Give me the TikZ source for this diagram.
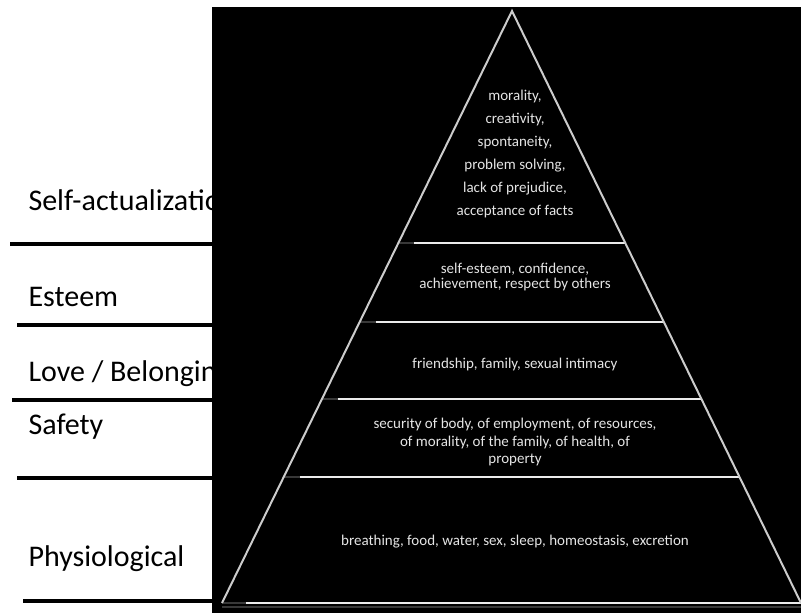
\documentclass[tikz,border=0pt]{standalone}
\usepackage{fontspec}
\setmainfont{Carlito}
\usetikzlibrary{calc}

\begin{document}
\begin{tikzpicture}[x=1pt,y=-1pt,
  level/.style={anchor=base west,font=\fontsize{30}{36}\selectfont},
  rule/.style={line width=3.5pt},
  need/.style={text=white!90!black,align=center,inner sep=0pt},
  side/.style={white!80!black,line width=2pt},
  tier/.style={white!92!black,line width=2pt},
  dimtier/.style={white!22!black,line width=2pt}]
\useasboundingbox (0,0) rectangle (801,613);
% level names
\node (self) at (25,210) [level] {Self-actualization};
\node (esteem) at (25,306) [level] {Esteem};
\node (love) at (25,381) [level] {Love / Belonging};
\node (safety) at (25,434) [level] {Safety};
\node (physio) at (25,566) [level] {Physiological};
\draw[rule] (10,244) -- (214,244);
\draw[rule] (17,325) -- (214,325);
\draw[rule] (12,400) -- (214,400);
\draw[rule] (17,478) -- (214,478);
\draw[rule] (23,601) -- (214,601);
% pyramid
\fill (212,7) rectangle (801,613);
\coordinate (top) at (512,11);
\coordinate (bl) at (222,603);
\coordinate (br) at (801,603);
\coordinate (l1) at ($(top)!0.392!(bl)$);
\coordinate (r1) at ($(top)!0.392!(br)$);
\coordinate (l2) at ($(top)!0.525!(bl)$);
\coordinate (r2) at ($(top)!0.525!(br)$);
\coordinate (l3) at ($(top)!0.655!(bl)$);
\coordinate (r3) at ($(top)!0.655!(br)$);
\coordinate (l4) at ($(top)!0.787!(bl)$);
\coordinate (r4) at ($(top)!0.787!(br)$);
\draw[dimtier] (l1) -- (r1);
\draw[tier] ($(l1)+(16,0)$) -- (r1);
\draw[dimtier] (l2) -- (r2);
\draw[tier] ($(l2)+(16,0)$) -- (r2);
\draw[dimtier] (l3) -- (r3);
\draw[tier] ($(l3)+(16,0)$) -- (r3);
\draw[dimtier] (l4) -- (r4);
\draw[tier] ($(l4)+(16,0)$) -- (r4);
\draw[dimtier] ($(bl)+(0,4)$) -- ($(br)+(0,4)$);
\draw[dimtier] (bl) -- (br);
\draw[tier] ($(bl)+(24,0)$) -- (br);
\draw[side] (bl) -- (top) -- (br);
% needs
\node (selftext) at (515,153.5) [need,font=\fontsize{15}{23}\selectfont] {morality,\\creativity,\\spontaneity,\\problem solving,\\lack of prejudice,\\acceptance of facts};
\node (esteemtext) at (515,276.5) [need,font=\fontsize{15}{15}\selectfont] {self-esteem, confidence,\\achievement, respect by others};
\node (lovetext) at (515,364) [need,font=\fontsize{15}{15}\selectfont] {friendship, family, sexual intimacy};
\node (safetytext) at (515,442) [need,font=\fontsize{15}{17.5}\selectfont] {security of body, of employment, of resources,\\of morality, of the family, of health, of\\property};
\node (physiotext) at (515,542) [need,font=\fontsize{15}{15}\selectfont] {breathing, food, water, sex, sleep, homeostasis, excretion};
\end{tikzpicture}
\end{document}
